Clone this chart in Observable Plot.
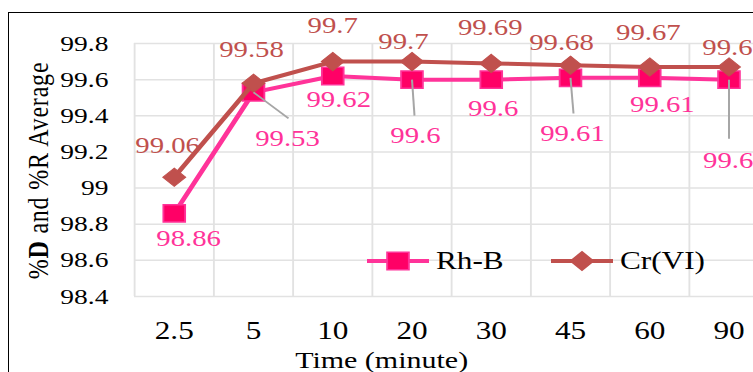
<!DOCTYPE html>
<html><head><meta charset="utf-8">
<script src="https://cdn.jsdelivr.net/npm/d3@7"></script>
<script src="https://cdn.jsdelivr.net/npm/@observablehq/plot@0.6"></script>
<style>
html,body{margin:0;padding:0;background:#fff;overflow:hidden;width:753px;height:372px}
#stage{position:absolute;left:0;top:0;width:602px;height:372px;transform:scaleX(1.25);transform-origin:0 0;font-family:"Liberation Serif","Times New Roman",serif}
#frame{position:absolute;left:8px;top:12px;width:800px;height:420px;border:1.5px solid #000;box-sizing:border-box;pointer-events:none}
#legend{position:absolute;left:0;top:0;overflow:visible;pointer-events:none}
</style></head><body>
<div id="stage"></div>
<div id="frame"></div>
<script>
// ---- data ----
const times = ["2.5", "5", "10", "20", "30", "45", "60", "90"];
const rhbValues = [98.86, 99.53, 99.62, 99.6, 99.6, 99.61, 99.61, 99.6];
const crValues = [99.06, 99.58, 99.7, 99.7, 99.69, 99.68, 99.67, 99.67];
const yTicks = [98.4, 98.6, 98.8, 99, 99.2, 99.4, 99.6, 99.8];
const seriesNames = ["Rh-B", "Cr(VI)"];
const yTitle = "%D and %R Average";
const xTitle = "Time (minute)";

// ---- layout (label offsets in px, not data) ----
const rhbLabelDx = [11.5, 27.2, 4.8, 2.8, 1.6, 1.6, 10.1, -0.6];
const rhbLabelDy = [25, 46, 23.5, 56, 29, 55.6, 26.6, 81];
const crLabelDx = [-5.3, -1.6, 0, -6.8, -0.8, -7.2, -1.1, 4.5];
const crLabelDy = [-31.7, -34, -36, -20.4, -36, -22.7, -34.5, -19.5];
const rhbLeaderDx = [null, 28, null, 2, null, 2.4, null, 0];
const rhbLeaderDy = [null, 26, null, 36, null, 35.6, null, 59];

const W = 602, H = 372, mL = 107.2, mR = -12.4, mT = 43, mB = 76;
const yDomain = [98.4, 99.8];
const xPx = (W - mL - mR) / times.length;
const yPx = (H - mT - mB) / (yDomain[1] - yDomain[0]);

const PINK = "#FF3399", PINK_FILL = "#FF0066", BROWN = "#C0504D";
const idx = d3.range(times.length);
const rhb = idx.map(i => ({i, v: rhbValues[i]}));
const cr = idx.map(i => ({i, v: crValues[i]}));
const leaders = rhb.filter((d, k) => rhbLeaderDx[k] !== null).map(d => ({
  x1: d.i, y1: d.v,
  x2: d.i + rhbLeaderDx[d.i] / xPx, y2: d.v - rhbLeaderDy[d.i] / yPx
}));

const labelMarks = [
  ...rhb.map((d, k) => Plot.text([d], {x: "i", y: "v", text: d => String(d.v), dx: rhbLabelDx[k], dy: rhbLabelDy[k],
    fill: PINK, fontSize: 23, textAnchor: "middle", lineAnchor: "middle"})),
  ...cr.map((d, k) => Plot.text([d], {x: "i", y: "v", text: d => String(d.v), dx: crLabelDx[k], dy: crLabelDy[k],
    fill: BROWN, fontSize: 23, textAnchor: "middle", lineAnchor: "middle"}))
];

const plot = Plot.plot({
  width: W, height: H,
  marginLeft: mL, marginRight: mR, marginTop: mT, marginBottom: mB,
  style: {background: "transparent", overflow: "visible", color: "#000",
    fontFamily: "'Liberation Serif','Times New Roman',serif"},
  x: {domain: [-0.5, times.length - 0.5]},
  y: {domain: yDomain},
  marks: [
    Plot.gridY(yTicks, {stroke: "#E2E2E2", strokeOpacity: 1, strokeWidth: 1.5}),
    Plot.gridX(d3.range(-0.5, times.length, 1), {stroke: "#E2E2E2", strokeOpacity: 1, strokeWidth: 1.5}),
    Plot.axisY(yTicks, {tickSize: 0, tickPadding: 21, fontSize: 22, tickFormat: d => String(d), label: null}),
    Plot.axisX(idx, {tickSize: 0, tickPadding: 25, fontSize: 25, tickFormat: i => times[i], label: null}),
    Plot.text([yTitle], {frameAnchor: "left", dx: -77, dy: 0.5, rotate: -90, fontSize: 24,
      textAnchor: "middle", lineAnchor: "middle", fill: "#000"}),
    Plot.text([xTitle], {frameAnchor: "bottom", dx: -56, dy: 64, fontSize: 24,
      textAnchor: "middle", lineAnchor: "middle", fill: "#000"}),
    ...labelMarks,
    Plot.line(rhb, {x: "i", y: "v", stroke: PINK, strokeWidth: 4}),
    Plot.dot(rhb, {x: "i", y: "v", symbol: "square", r: 9.8, fill: PINK_FILL, stroke: PINK, strokeWidth: 1.5}),
    Plot.line(cr, {x: "i", y: "v", stroke: BROWN, strokeWidth: 4}),
    Plot.dot(cr, {x: "i", y: "v", symbol: "diamond2", r: 8.2, fill: BROWN, stroke: BROWN, strokeWidth: 1}),
    Plot.link(leaders, {x1: "x1", y1: "y1", x2: "x2", y2: "y2", stroke: "#A6A6A6", strokeWidth: 1.6})
  ]
});

// bold "D" in y title, slight letter spacing like the reference
plot.querySelectorAll("text").forEach(t => {
  if (t.textContent === yTitle) {
    t.textContent = "";
    t.setAttribute("letter-spacing", "0.8");
    const ns = "http://www.w3.org/2000/svg";
    const parts = [["%", false], ["D", true], [" and %R Average", false]];
    for (const [s, b] of parts) {
      const ts = document.createElementNS(ns, "tspan");
      ts.textContent = s;
      if (b) ts.setAttribute("font-weight", "bold");
      t.appendChild(ts);
    }
  }
});

const stage = document.getElementById("stage");
stage.appendChild(plot);

// legend overlay (in unscaled stage coordinates)
const leg = d3.select(stage).append("svg").attr("id", "legend").attr("width", W).attr("height", H);
const legendItems = [
  {name: seriesNames[0], x0: 293.6, x1: 343.2, color: PINK, sym: d3.symbolSquare, size: Math.PI * 9.8 * 9.8, fill: PINK_FILL},
  {name: seriesNames[1], x0: 440.8, x1: 490.4, color: BROWN, sym: d3.symbolDiamond2, size: Math.PI * 8.2 * 8.2, fill: BROWN}
];
const ly = 261;
for (const it of legendItems) {
  leg.append("line").attr("x1", it.x0).attr("x2", it.x1).attr("y1", ly).attr("y2", ly)
    .attr("stroke", it.color).attr("stroke-width", 4);
  leg.append("path").attr("d", d3.symbol(it.sym, it.size)())
    .attr("transform", `translate(${(it.x0 + it.x1) / 2},${ly})`)
    .attr("fill", it.fill).attr("stroke", it.color).attr("stroke-width", 1.5);
  leg.append("text").attr("x", it.x1 + 5.6).attr("y", 269).text(it.name)
    .attr("font-size", 25).attr("fill", "#000")
    .attr("font-family", "'Liberation Serif','Times New Roman',serif");
}
</script>
</body></html>
